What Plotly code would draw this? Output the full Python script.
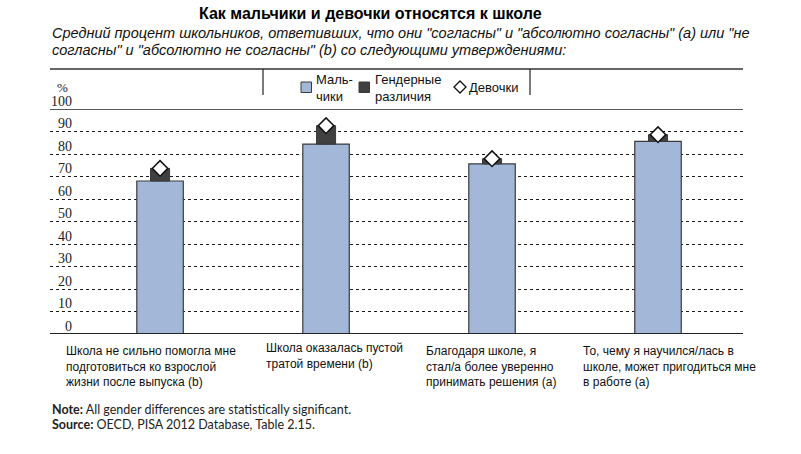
import plotly.graph_objects as go

categories = [
    "Школа не сильно помогла мне<br>подготовиться ко взрослой<br>жизни после выпуска (b)",
    "Школа оказалась пустой<br>тратой времени (b)",
    "Благодаря школе, я<br>стал/а более уверенно<br>принимать решения (a)",
    "То, чему я научился/лась в<br>школе, может пригодиться мне<br>в работе (a)",
]
boys = [68.0, 84.4, 75.6, 85.6]
girls = [73.6, 92.6, 77.9, 88.6]
gender_diff = [g - b for g, b in zip(girls, boys)]
y_ticks = [0, 10, 20, 30, 40, 50, 60, 70, 80, 90, 100]

title = "Как мальчики и девочки относятся к школе"
subtitle_lines = [
    'Средний процент школьников, ответивших, что они "согласны" и "абсолютно согласны" (a) или "не',
    'согласны" и "абсолютно не согласны" (b) со следующими утверждениями:',
]
note_text = "<b>Note:</b> All gender differences are statistically significant."
source_text = "<b>Source:</b> OECD, PISA 2012 Database, Table 2.15."
legend_boys = "Маль-<br>чики"
legend_diff = "Гендерные<br>различия"
legend_girls = "Девочки"

x_idx = list(range(len(categories)))

BLUE = "#a3b8d9"
DARK = "#404040"
EDGE = "#3a3a3a"
TXT = "#111111"

fig = go.Figure()
fig.add_trace(go.Bar(
    x=x_idx, y=boys, width=0.28, marker=dict(color=BLUE, line=dict(color=EDGE, width=1.2)),
    showlegend=False, name="Мальчики"))
fig.add_trace(go.Bar(
    x=x_idx, y=gender_diff, base=boys, width=0.115,
    marker=dict(color=DARK, line=dict(color=EDGE, width=1)), showlegend=False, name="Гендерные различия"))
fig.add_trace(go.Scatter(
    x=x_idx, y=girls, mode="markers",
    marker=dict(symbol="diamond", size=12, color="white", line=dict(color="#111", width=1.5)),
    showlegend=False, name="Девочки"))

fig.update_layout(
    width=801, height=454,
    margin=dict(l=50, r=58, t=109, b=120),
    paper_bgcolor="white", plot_bgcolor="white",
    barmode="overlay",
    font=dict(family="Liberation Sans", color=TXT),
    xaxis=dict(range=[-0.663, 3.512], showgrid=False, zeroline=False, showticklabels=False,
               showline=False, fixedrange=True),
    yaxis=dict(range=[0, 100], tickvals=y_ticks[1:-1], showticklabels=False, showgrid=True,
               gridcolor="#1a1a1a", griddash="dot", gridwidth=1.2, zeroline=False, showline=False,
               layer="below traces"),
)

# solid lines at 0 and 100
fig.add_shape(type="line", xref="paper", yref="y", x0=0, x1=1, y0=0, y1=0,
              line=dict(color="#222", width=2))
fig.add_shape(type="line", xref="paper", yref="y", x0=0, x1=1, y0=100, y1=100,
              line=dict(color="#222", width=1.5))

# y tick labels above gridlines
for v in y_ticks:
    fig.add_annotation(x=0, xref="paper", y=v, yref="y", text=str(v), showarrow=False,
                       xanchor="right", yanchor="middle", xshift=24, yshift=8,
                       font=dict(family="Liberation Serif", size=14, color="#222"))
fig.add_annotation(x=0, xref="paper", y=100, yref="y", text="%", showarrow=False,
                   xanchor="center", yanchor="middle", xshift=12, yshift=22,
                   font=dict(family="Liberation Serif", size=13, color="#222"))

# top frame line and legend separators
H = 225.0
W = 693.0
def py(px):  # pixel y -> paper
    return (334 - px) / H
def pxp(px):
    return (px - 50) / W

fig.add_shape(type="line", xref="paper", yref="paper", x0=0, x1=1, y0=py(69), y1=py(69),
              line=dict(color="#333", width=1.5))
for xv in [263, 530]:
    fig.add_shape(type="line", xref="paper", yref="paper", x0=pxp(xv), x1=pxp(xv), y0=py(69), y1=py(95),
                  line=dict(color="#222", width=1.2))

# legend
fig.add_shape(type="rect", xref="paper", yref="paper", x0=pxp(301), x1=pxp(311.5), y0=py(92.5), y1=py(82),
              fillcolor=BLUE, line=dict(color=EDGE, width=1))
fig.add_shape(type="rect", xref="paper", yref="paper", x0=pxp(359), x1=pxp(369.5), y0=py(92.5), y1=py(82),
              fillcolor=DARK, line=dict(color=EDGE, width=1))
fig.add_shape(type="path", xref="paper", yref="paper",
              path=f"M {pxp(460)} {py(81)} L {pxp(466)} {py(87)} L {pxp(460)} {py(93)} L {pxp(454)} {py(87)} Z",
              fillcolor="white", line=dict(color="#111", width=1.3))
leg_font = dict(family="Liberation Sans", size=13, color=TXT)
fig.add_annotation(xref="paper", yref="paper", x=pxp(314), y=py(88), text=legend_boys, showarrow=False,
                   xanchor="left", yanchor="middle", align="left", font=leg_font)
fig.add_annotation(xref="paper", yref="paper", x=pxp(373), y=py(88), text=legend_diff, showarrow=False,
                   xanchor="left", yanchor="middle", align="left", font=leg_font)
fig.add_annotation(xref="paper", yref="paper", x=pxp(467), y=py(87), text=legend_girls, showarrow=False,
                   xanchor="left", yanchor="middle", align="left", font=leg_font)

# category labels
label_left = [64, 264, 424, 581]
label_top = [342, 339, 342, 342]
for i, c in enumerate(categories):
    fig.add_annotation(xref="paper", yref="paper", x=pxp(label_left[i]), y=py(label_top[i]), text=c,
                       showarrow=False, xanchor="left", yanchor="top", align="left",
                       font=dict(family="Liberation Sans", size=12, color=TXT))

# title, subtitle
fig.add_annotation(xref="paper", yref="paper", x=pxp(370), y=py(14), text=f"<b>{title}</b>", showarrow=False,
                   xanchor="center", yanchor="middle", font=dict(family="Liberation Sans", size=16, color="#000"))
for j, line in enumerate(subtitle_lines):
    fig.add_annotation(xref="paper", yref="paper", x=pxp(50), y=py(33 + 17 * j), text=f"<i>{line}</i>",
                       showarrow=False, xanchor="left", yanchor="middle",
                       font=dict(family="Liberation Sans", size=14.5, color="#111"))

# note / source
for j, line in enumerate([note_text, source_text]):
    fig.add_annotation(xref="paper", yref="paper", x=pxp(50), y=py(409 + 15 * j), text=line,
                       showarrow=False, xanchor="left", yanchor="middle",
                       font=dict(family="Lato", size=12.5, color="#222"))

fig.write_html("out.html")
